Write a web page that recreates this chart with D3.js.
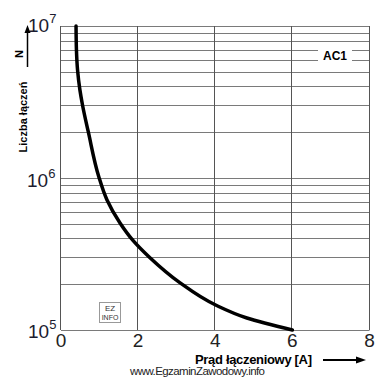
<!DOCTYPE html>
<html>
<head>
<meta charset="utf-8">
<script src="https://cdn.jsdelivr.net/npm/d3@7"></script>
<style>
  body { margin: 0; background: #fff; }
  svg { display: block; font-family: 'Liberation Sans', Arial, sans-serif; }
</style>
</head>
<body>
<svg width="384" height="377"></svg>
<script>
// curve: current [A] vs number of switchings
const currentA = [0.39, 0.40, 0.43, 0.49, 0.56, 0.71, 0.98, 1.19, 1.53, 1.86, 2.30, 3.08, 4.01, 4.82, 6.0];
const switchings = [1e7, 7.0e6, 5.1e6, 3.8e6, 3.0e6, 2.0e6, 1.02e6, 7.2e5, 5.06e5, 3.9e5, 3.0e5, 2.05e5, 1.46e5, 1.2e5, 1e5];
const xTicks = [0, 2, 4, 6, 8];
const yDecades = [5, 6, 7];

const svg = d3.select('svg');
const margin = { top: 26, right: 14, bottom: 47, left: 61 };
const width = 384, height = 377;

const x = d3.scaleLinear().domain([0, 8]).range([margin.left, width - margin.right - 0.5]);
const y = d3.scaleLog().domain([1e5, 1e7]).range([height - margin.bottom, margin.top]);

// horizontal log grid
const minor = [];
for (let d = 5; d < 7; d++) {
  for (let m = 1; m <= 9; m++) minor.push(m * Math.pow(10, d));
}
minor.push(1e7);

const grid = svg.append('g').attr('stroke', '#7a7a7a').attr('stroke-width', 1);
grid.selectAll('line.h')
  .data(minor)
  .enter()
  .append('line')
  .attr('x1', x(0))
  .attr('x2', x(8))
  .attr('y1', d => Math.round(y(d)) + 0.5)
  .attr('y2', d => Math.round(y(d)) + 0.5);

grid.selectAll('line.v')
  .data(xTicks)
  .enter()
  .append('line')
  .attr('stroke', '#555')
  .attr('x1', d => Math.round(x(d)) - 0.5)
  .attr('x2', d => Math.round(x(d)) - 0.5)
  .attr('y1', y(1e7))
  .attr('y2', y(1e5));

// AC1 label with white box breaking the grid
svg.append('rect')
  .attr('x', 318).attr('y', 46).attr('width', 34).attr('height', 18)
  .attr('fill', '#fff');
svg.append('text')
  .attr('x', 335).attr('y', 59.5)
  .attr('text-anchor', 'middle')
  .attr('font-size', 12).attr('font-weight', 'bold')
  .text('AC1');

// curve
const line = d3.line()
  .x(d => x(d[0]))
  .y(d => y(d[1]))
  .curve(d3.curveMonotoneY);

svg.append('path')
  .datum(currentA.map((c, i) => [c, switchings[i]]))
  .attr('fill', 'none')
  .attr('stroke', '#000')
  .attr('stroke-width', 3.5)
  .attr('stroke-linecap', 'round')
  .attr('d', line);

// x tick labels
svg.selectAll('text.xt')
  .data(xTicks)
  .enter()
  .append('text')
  .attr('x', d => x(d))
  .attr('y', 347)
  .attr('text-anchor', 'middle')
  .attr('font-size', 19)
  .attr('fill', '#222')
  .text(d => d);

// y decade labels 10^n
const yl = svg.selectAll('text.yt')
  .data(yDecades)
  .enter()
  .append('text')
  .attr('x', d => (d === 6 ? 27 : 28))
  .attr('y', d => y(Math.pow(10, d)) + (d === 7 ? 6 : d === 6 ? 9 : 8))
  .attr('font-size', 19)
  .attr('fill', '#1c1c30');
yl.append('tspan').text('10');
yl.append('tspan').attr('dy', -9).attr('font-size', 13).text(d => d);

// y axis title
svg.append('text')
  .attr('transform', 'translate(27,117) rotate(-90)')
  .attr('text-anchor', 'middle')
  .attr('font-size', 11).attr('font-weight', 'bold')
  .text('Liczba łączeń');
svg.append('text')
  .attr('transform', 'translate(23,54) rotate(-90)')
  .attr('text-anchor', 'middle')
  .attr('font-size', 11).attr('font-weight', 'bold')
  .text('N');
svg.append('line')
  .attr('x1', 27.5).attr('x2', 27.5).attr('y1', 67).attr('y2', 32)
  .attr('stroke', '#000').attr('stroke-width', 1.5);
svg.append('path')
  .attr('d', 'M27.5,25 L24.5,33 L30.5,33 Z')
  .attr('fill', '#000');

// x axis title
svg.append('text')
  .attr('x', 195).attr('y', 364)
  .attr('font-size', 13).attr('font-weight', 'bold')
  .attr('textLength', 117)
  .text('Prąd łączeniowy [A]');
svg.append('line')
  .attr('x1', 323).attr('x2', 358).attr('y1', 360).attr('y2', 360)
  .attr('stroke', '#000').attr('stroke-width', 2);
svg.append('path')
  .attr('d', 'M366,360 L356,356.5 L356,363.5 Z')
  .attr('fill', '#000');

// watermark
svg.append('text')
  .attr('x', 130).attr('y', 375)
  .attr('font-size', 11.5)
  .attr('fill', '#222')
  .attr('textLength', 135)
  .text('www.EgzaminZawodowy.info');

// small EZ INFO stamp
svg.append('rect')
  .attr('x', 99.5).attr('y', 302.5).attr('width', 21).attr('height', 20)
  .attr('fill', '#fff')
  .attr('stroke', '#333').attr('stroke-dasharray', '1,1');
svg.append('text')
  .attr('x', 110).attr('y', 311).attr('text-anchor', 'middle')
  .attr('font-size', 8).attr('fill', '#333').text('EZ');
svg.append('text')
  .attr('x', 110).attr('y', 320).attr('text-anchor', 'middle')
  .attr('font-size', 7).attr('fill', '#333').text('INFO');
</script>
</body>
</html>
